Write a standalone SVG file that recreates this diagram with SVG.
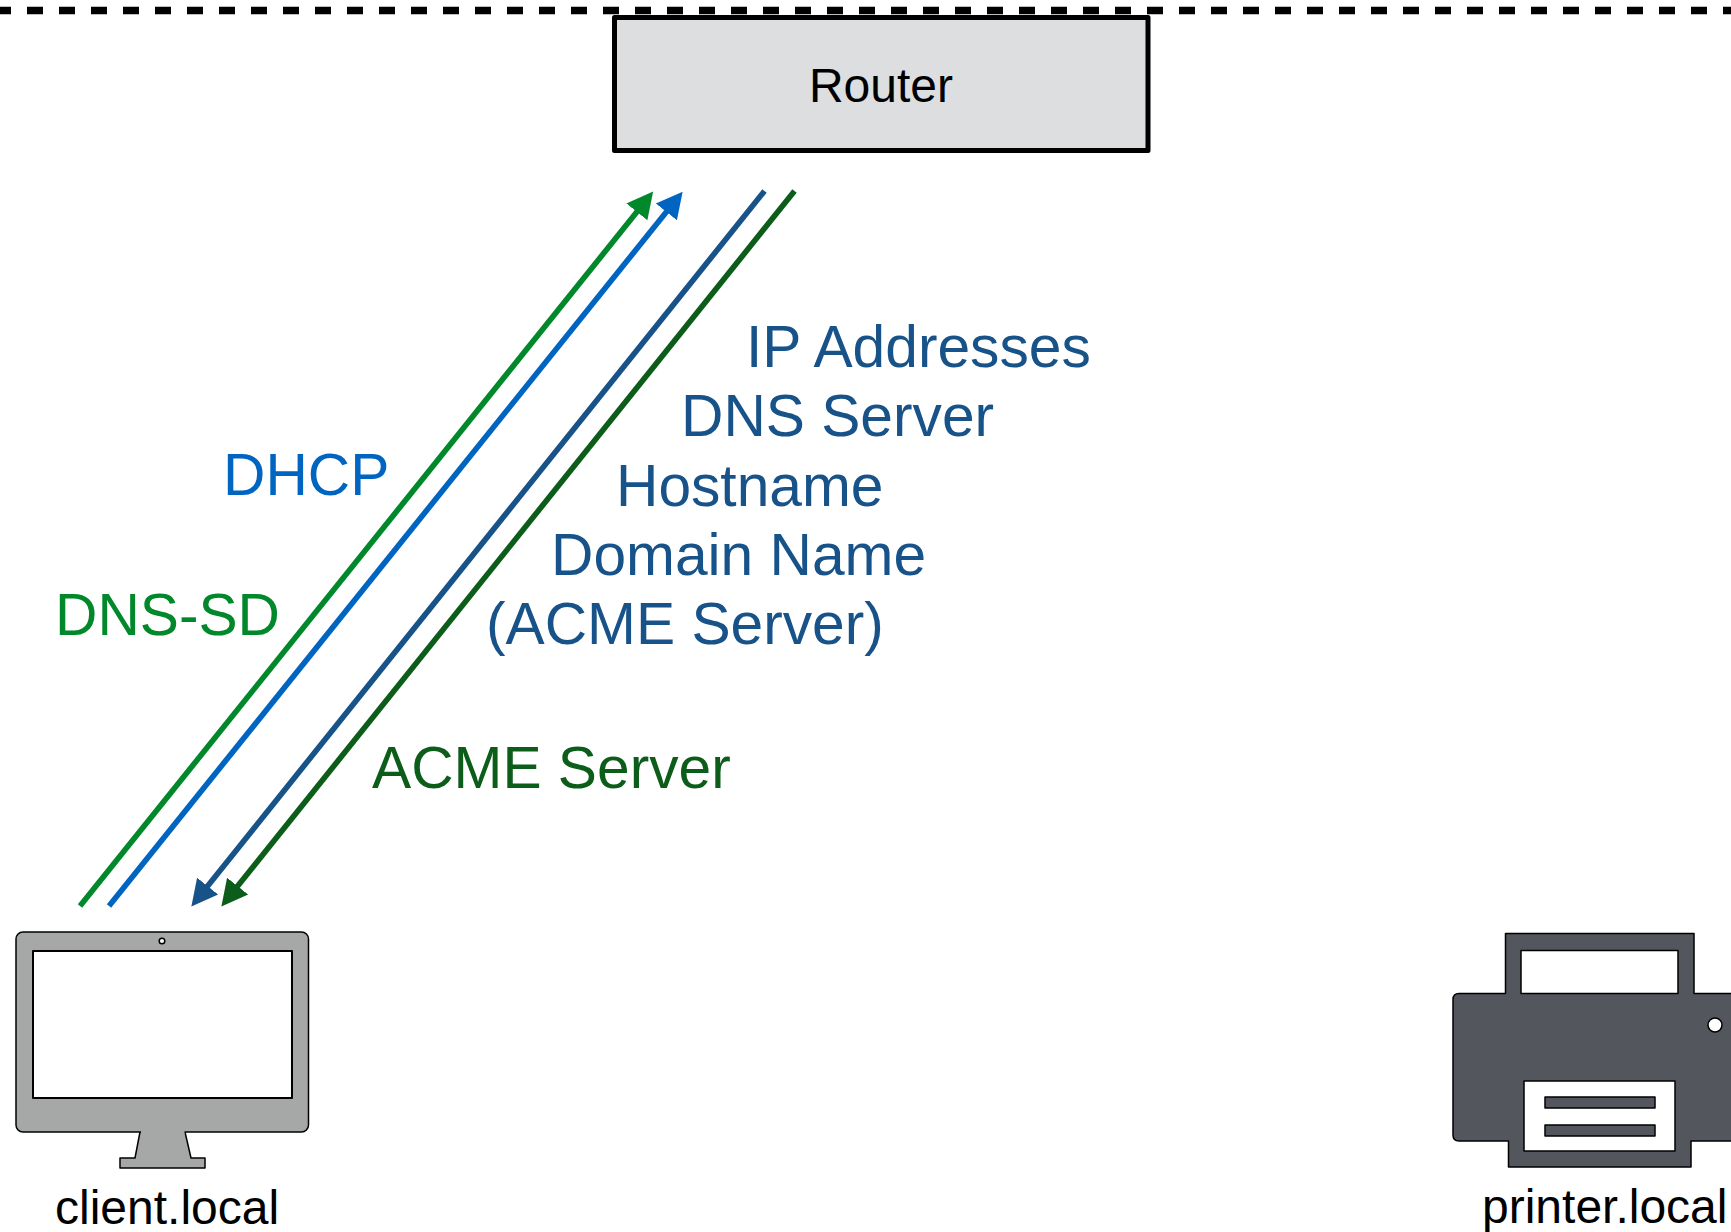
<svg xmlns="http://www.w3.org/2000/svg" width="1731" height="1232" viewBox="0 0 1731 1232">
<style>
text{font-family:"Liberation Sans",Arial,sans-serif}
.t48{font-size:48px;fill:#000}
.t58{font-size:58.7px}
.ln{fill:none;stroke-width:5.6;stroke-linecap:butt}
.k{stroke:#000;stroke-linejoin:round}
.db{fill:#175289}.dg{fill:#0d5d1a}.g{fill:#00882b}.b{fill:#0065c1}
</style>
<defs>
<marker id="mg" markerUnits="userSpaceOnUse" markerWidth="32" markerHeight="32" refX="5" refY="16" orient="auto"><path class="g" d="M0 2.500L26 16L0 29.500z"/></marker>
<marker id="mb" markerUnits="userSpaceOnUse" markerWidth="32" markerHeight="32" refX="5" refY="16" orient="auto"><path class="b" d="M0 2.500L26 16L0 29.500z"/></marker>
<marker id="mdb" markerUnits="userSpaceOnUse" markerWidth="32" markerHeight="32" refX="5" refY="16" orient="auto"><path class="db" d="M0 2.500L26 16L0 29.500z"/></marker>
<marker id="mdg" markerUnits="userSpaceOnUse" markerWidth="32" markerHeight="32" refX="5" refY="16" orient="auto"><path class="dg" d="M0 2.500L26 16L0 29.500z"/></marker>
</defs>
<rect width="1731" height="1232" fill="#fff"/>
<path d="M-5 10.500H1731" fill="none" stroke="#000" stroke-width="7.500" stroke-dasharray="16 16"/>
<g id="router">
<rect x="614.500" y="17.500" width="533.500" height="133" fill="#dcdee0" stroke="#000" stroke-width="5" stroke-linejoin="round"/>
<text class="t48" x="881" y="102" text-anchor="middle">Router</text>
</g>
<g id="connectors">
<path class="ln" stroke="#00882b" marker-end="url(#mg)" d="M80 906L640 208"/>
<path class="ln" stroke="#0065c1" marker-end="url(#mb)" d="M109 906L669.500 208"/>
<path class="ln" stroke="#175289" marker-end="url(#mdb)" d="M764.500 191L204.500 890"/>
<path class="ln" stroke="#0d5d1a" marker-end="url(#mdg)" d="M794.500 191L234.500 890"/>
</g>
<g id="labels">
<text class="t58 g" x="55" y="634.500">DNS-SD</text>
<text class="t58 b" x="223" y="495">DHCP</text>
<text class="t58 db" x="746" y="367">IP Addresses</text>
<text class="t58 db" x="681" y="436">DNS Server</text>
<text class="t58 db" x="616" y="506">Hostname</text>
<text class="t58 db" x="551" y="575">Domain Name</text>
<text class="t58 db" x="486" y="644">(ACME Server)</text>
<text class="t58 dg" x="372" y="788">ACME Server</text>
</g>
<g id="client">
<path class="k" fill="#a5a8a6" stroke-width="1.500" d="M140 1132L135 1158H120V1168H205V1158H191L185 1132z"/>
<rect class="k" x="16" y="932" width="292.500" height="200" rx="7" fill="#a5a8a6" stroke-width="1.500"/>
<path fill="#a5a8a6" d="M141 1130H184.500V1134H141z"/>
<rect class="k" x="33" y="951" width="259" height="147" fill="#fff" stroke-width="2"/>
<circle class="k" cx="162" cy="941" r="2.800" fill="#fff" stroke-width="1.500"/>
<text class="t48" x="55" y="1224">client.local</text>
</g>
<g id="printer">
<path class="k" fill="#53565c" stroke-width="1.500" d="M1505.500 993.500V933.500H1694V993.500H1740V1141H1691V1167H1508.500V1141H1459Q1453 1141 1453 1135V999.500Q1453 993.500 1459 993.500z"/>
<rect class="k" x="1521" y="950.500" width="157" height="43" fill="#fff" stroke-width="1.500"/>
<rect class="k" x="1524" y="1081" width="151" height="70" fill="#fff" stroke-width="1.500"/>
<rect class="k" x="1545" y="1097" width="110" height="11" fill="#53565c" stroke-width="1.500"/>
<rect class="k" x="1545" y="1125" width="110" height="11" fill="#53565c" stroke-width="1.500"/>
<circle class="k" cx="1715" cy="1025" r="7" fill="#fff" stroke-width="1.500"/>
<text class="t48" x="1482" y="1223">printer.local</text>
</g>
</svg>
